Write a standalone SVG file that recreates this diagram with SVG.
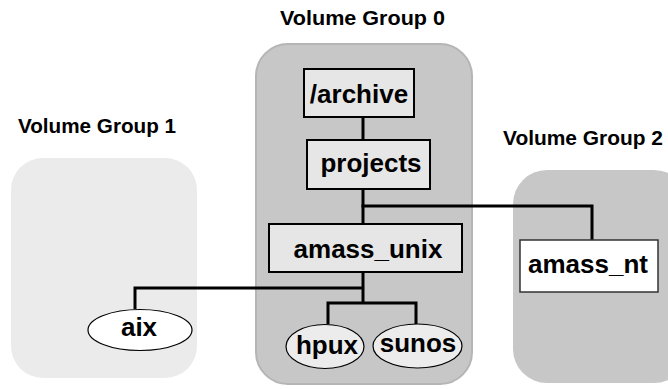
<svg xmlns="http://www.w3.org/2000/svg" width="668" height="389" viewBox="0 0 668 389">
<style>
.title{font-family:"Liberation Sans",Arial,sans-serif;font-weight:bold;font-size:20px;fill:#000}
.lbl{font-family:"Liberation Sans",Arial,sans-serif;font-weight:bold;font-size:26px;fill:#000;text-anchor:middle}
.box{fill:#e6e6e6;stroke:#000;stroke-width:2}
.ell{fill:#ececec;stroke:#000;stroke-width:1.2}
.conn{fill:none;stroke:#000;stroke-width:3}
</style>
<rect width="668" height="389" fill="#fff"/>
<g id="vg1">
<rect x="11" y="158" width="186" height="220" rx="32" fill="#ebebeb"/>
<text class="title" x="18" y="133" textLength="158" lengthAdjust="spacingAndGlyphs">Volume Group 1</text>
</g>
<g id="vg0">
<rect x="256" y="44" width="216" height="340" rx="32" fill="#c7c7c7" stroke="#b5b5b5" stroke-width="2"/>
<text class="title" x="280" y="25" textLength="165" lengthAdjust="spacingAndGlyphs">Volume Group 0</text>
</g>
<g id="vg2">
<rect x="513" y="170" width="175" height="213" rx="34" fill="#c7c7c7"/>
<text class="title" x="503" y="145" textLength="160" lengthAdjust="spacingAndGlyphs">Volume Group 2</text>
</g>
<g id="connectors">
<path class="conn" d="M363 117V139"/>
<path class="conn" d="M363 189V223"/>
<path class="conn" d="M361.5 206H592V240"/>
<path class="conn" d="M363 272V303"/>
<path class="conn" d="M363 288H135V309"/>
<path class="conn" d="M328 324V303H416V324"/>
</g>
<g id="archive">
<rect class="box" x="304" y="69" width="110" height="48"/>
<text class="lbl" x="359" y="103">/archive</text>
</g>
<g id="projects">
<rect class="box" x="307" y="140" width="123" height="49"/>
<text class="lbl" x="371" y="172">projects</text>
</g>
<g id="amass_unix">
<rect class="box" x="269" y="224" width="193" height="48"/>
<text class="lbl" x="368" y="258">amass_unix</text>
</g>
<g id="amass_nt">
<rect x="520" y="240" width="138" height="52" fill="#fff" stroke="#333" stroke-width="1.5"/>
<text class="lbl" x="588" y="273">amass_nt</text>
</g>
<g id="aix">
<ellipse cx="140" cy="330" rx="52" ry="20.5" fill="#fff" stroke="#000" stroke-width="1.2"/>
<text class="lbl" x="139" y="336">aix</text>
</g>
<g id="hpux">
<ellipse class="ell" cx="325" cy="346.5" rx="39" ry="22"/>
<text class="lbl" x="327" y="354">hpux</text>
</g>
<g id="sunos">
<ellipse class="ell" cx="417.5" cy="346" rx="44.5" ry="22"/>
<text class="lbl" x="418" y="352">sunos</text>
</g>
</svg>
